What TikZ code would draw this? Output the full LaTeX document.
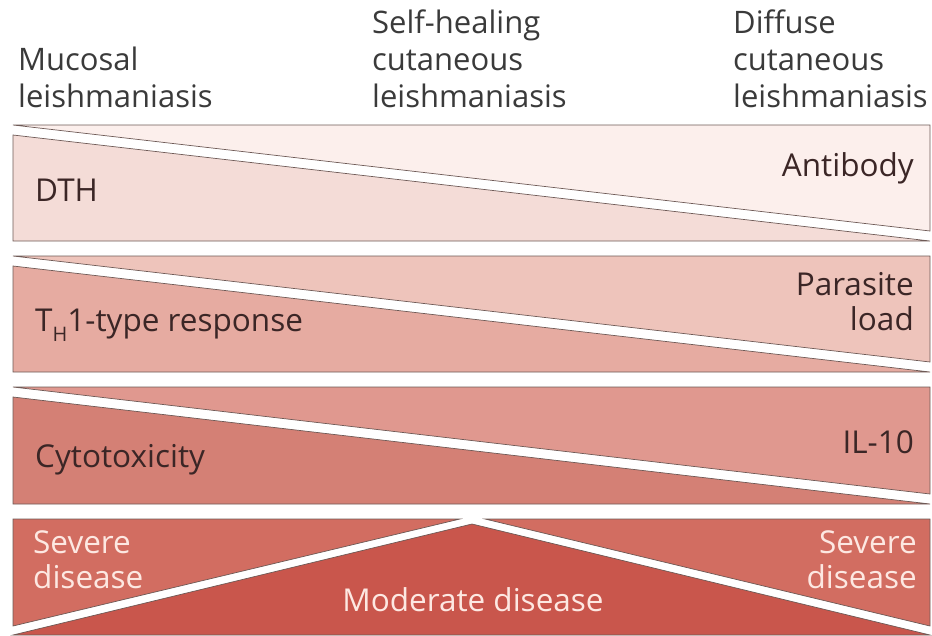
\documentclass[tikz,border=0pt]{standalone}
\usepackage{fontspec}
\setmainfont{Open Sans}
\definecolor{bAu}{HTML}{FCEFEC}
\definecolor{bAl}{HTML}{F4DCD7}
\definecolor{bBu}{HTML}{EEC4BB}
\definecolor{bBl}{HTML}{E6ABA1}
\definecolor{bCu}{HTML}{E0988F}
\definecolor{bCl}{HTML}{D48075}
\definecolor{bDs}{HTML}{D26D61}
\definecolor{bDm}{HTML}{C9564C}
\definecolor{txt}{HTML}{3B2626}
\definecolor{hdr}{HTML}{3A3A3A}
\definecolor{ltxt}{HTML}{FDE8E2}
\definecolor{edge}{HTML}{6E5A56}
\begin{document}
\begin{tikzpicture}[x=1pt,y=-1pt,
  piece/.style={draw=edge, line width=0.7pt, line join=miter},
  lbl/.style={font=\fontsize{31.5}{35}\selectfont, text=txt, inner sep=0pt},
  hlbl/.style={font=\fontsize{31}{37}\selectfont, text=hdr, inner sep=0pt, align=left, anchor=base west},
  wlbl/.style={lbl, text=ltxt}]
\useasboundingbox (0,0) rectangle (932,635);
% band 1
\path[piece, fill=bAu] (13,125) -- (930,125) -- (930,231) -- cycle;
\path[piece, fill=bAl] (13,135) -- (13,241) -- (930,241) -- cycle;
% band 2
\path[piece, fill=bBu] (13,256) -- (930,256) -- (930,362) -- cycle;
\path[piece, fill=bBl] (13,266) -- (13,372) -- (930,372) -- cycle;
% band 3
\path[piece, fill=bCu] (13,387) -- (930,387) -- (930,494) -- cycle;
\path[piece, fill=bCl] (13,397) -- (13,504) -- (930,504) -- cycle;
% band 4
\path[piece, fill=bDs] (13,519) -- (460,519) -- (13,626) -- cycle;
\path[piece, fill=bDs] (485,519) -- (930,519) -- (930,626) -- cycle;
\path[piece, fill=bDm] (13,635) -- (472,524) -- (930,635) -- cycle;
% headers
\node[hlbl] (h1) at (18,107) {Mucosal\\leishmaniasis};
\node[hlbl] (h2) at (372,107) {Self-healing\\cutaneous\\leishmaniasis};
\node[hlbl] (h3) at (733,107) {Diffuse\\cutaneous\\leishmaniasis};
% band labels
\node[lbl, anchor=west] (dth) at (35,190) {DTH};
\node[lbl, anchor=east] (ab) at (914,168) {Antibody};
\node[lbl, anchor=west] (th) at (35,325) {T\raisebox{-0.32em}{\fontsize{20}{20}\selectfont H}1-type response};
\node[lbl, anchor=east, align=right] (pl) at (914,302) {Parasite\\load};
\node[lbl, anchor=west] (cy) at (35,460) {Cytotoxicity};
\node[lbl, anchor=east] (il) at (914,442) {IL-10};
\node[wlbl, anchor=west, align=left] (sl) at (33,560) {Severe\\disease};
\node[wlbl, anchor=east, align=right] (sr) at (917,560) {Severe\\disease};
\node[wlbl] (md) at (473,600) {Moderate disease};
\end{tikzpicture}
\end{document}
